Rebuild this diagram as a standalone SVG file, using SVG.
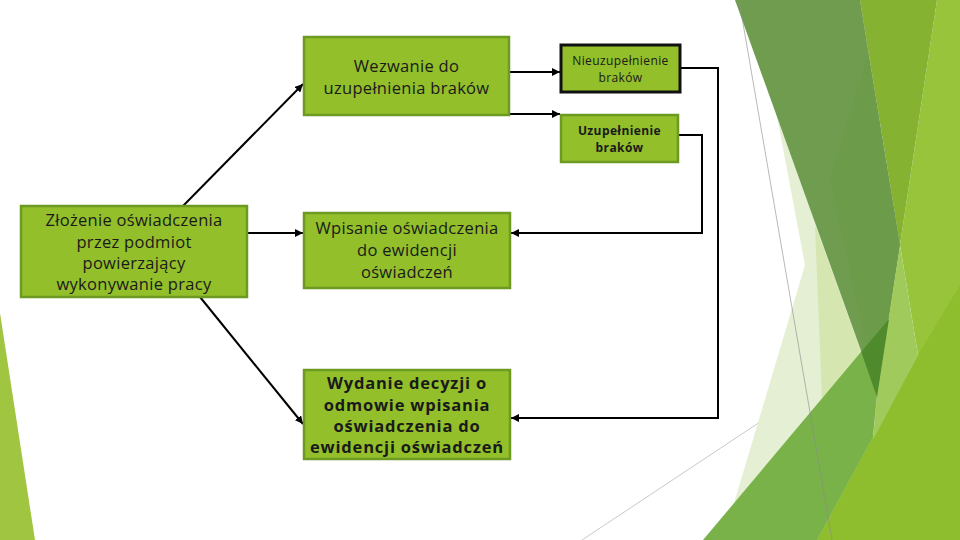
<svg xmlns="http://www.w3.org/2000/svg" width="960" height="540" viewBox="0 0 960 540">
<defs>
<style>
.box{fill:#92bf2a;stroke:#6d9a22;stroke-width:2.5}
.boxk{fill:#92bf2a;stroke:#111;stroke-width:3}
.t{font-family:"Open Sans","Liberation Sans",sans-serif;font-size:16.5px;letter-spacing:0.3px;fill:#1a1a1a;text-anchor:middle}
.tb{font-family:"Open Sans","Liberation Sans",sans-serif;font-size:16.5px;letter-spacing:0.8px;font-weight:bold;fill:#1a1a1a;text-anchor:middle}
.ts{font-family:"Open Sans","Liberation Sans",sans-serif;font-size:12px;letter-spacing:0.4px;fill:#1a1a1a;text-anchor:middle}
.tsb{font-family:"Open Sans","Liberation Sans",sans-serif;font-size:12px;letter-spacing:0.4px;font-weight:bold;fill:#1a1a1a;text-anchor:middle}
.c{fill:none;stroke:#000;stroke-width:2}
</style>
<marker id="ah" markerUnits="userSpaceOnUse" markerWidth="9" markerHeight="8" refX="8" refY="4" orient="auto">
<path d="M0,0 L8,4 L0,8 z" fill="#000"/>
</marker>
</defs>
<rect width="960" height="540" fill="#ffffff"/>
<g id="background">
<polygon points="0,313 35,540 0,540" fill="#9fc541"/>
<line x1="582" y1="540" x2="858" y2="357" stroke="#c9c9c9" stroke-width="1"/>
<polygon points="755,0 805,265 723,540 880,540 880,0" fill="#e5efd4"/>
<polygon points="815,225 862,354 822,398 818,300" fill="#d5e6b0"/>
<polygon points="937,0 960,0 960,540 817,540 873,437 918,355 900,245" fill="#97c43b"/>
<polygon points="817,540 873,437 918,355 960,285 960,540" fill="#8ebe2d"/>
<polygon points="860,0 937,0 900,245" fill="#86b232"/>
<polygon points="735,0 860,0 900,245 877,395" fill="#709c4f"/>
<polygon points="868,55 900,245 877,395 830,180" fill="#6c9b49"/>
<polygon points="900,245 918,355 873,440 877,395" fill="#a1ca5d"/>
<polygon points="703,540 861,352 877,395 873,437 817,540" fill="#79b249"/>
<polygon points="861,352 889,319 877,397" fill="#4f8b2c"/>
<line x1="739" y1="0" x2="832" y2="540" stroke="#8a8a8a" stroke-width="1" stroke-opacity="0.6"/>
</g>
<g id="connectors">
<line class="c" x1="183" y1="206" x2="303" y2="84" marker-end="url(#ah)"/>
<line class="c" x1="247" y1="233" x2="303" y2="233" marker-end="url(#ah)"/>
<line class="c" x1="200" y1="297" x2="303" y2="424" marker-end="url(#ah)"/>
<line class="c" x1="509" y1="72" x2="560" y2="72" marker-end="url(#ah)"/>
<line class="c" x1="509" y1="114" x2="560" y2="114" marker-end="url(#ah)"/>
<polyline class="c" points="680,68 718,68 718,418 511,418" marker-end="url(#ah)"/>
<polyline class="c" points="678,135 702,135 702,233 511,233" marker-end="url(#ah)"/>
</g>
<g id="n1">
<rect class="box" x="304" y="37" width="205" height="78"/>
<text class="t" x="406.5" y="72">Wezwanie do</text>
<text class="t" x="406.5" y="94">uzupełnienia braków</text>
</g>
<g id="n2">
<rect class="boxk" x="561" y="45" width="119" height="47"/>
<text class="ts" x="620.5" y="64.5">Nieuzupełnienie</text>
<text class="ts" x="620.5" y="81.5">braków</text>
</g>
<g id="n3">
<rect class="box" x="561" y="115" width="117" height="47"/>
<text class="tsb" x="619.5" y="135">Uzupełnienie</text>
<text class="tsb" x="619.5" y="152">braków</text>
</g>
<g id="n4">
<rect class="box" x="21" y="206" width="226" height="91"/>
<text class="t" x="134" y="226">Złożenie oświadczenia</text>
<text class="t" x="134" y="247.5">przez podmiot</text>
<text class="t" x="134" y="269">powierzający</text>
<text class="t" x="134" y="290">wykonywanie pracy</text>
</g>
<g id="n5">
<rect class="box" x="304" y="213" width="206" height="75"/>
<text class="t" x="407" y="234">Wpisanie oświadczenia</text>
<text class="t" x="407" y="256">do ewidencji</text>
<text class="t" x="407" y="278">oświadczeń</text>
</g>
<g id="n6">
<rect class="box" x="304" y="370" width="206" height="89"/>
<text class="tb" x="407" y="389">Wydanie decyzji o</text>
<text class="tb" x="407" y="411">odmowie wpisania</text>
<text class="tb" x="407" y="432">oświadczenia do</text>
<text class="tb" x="407" y="453">ewidencji oświadczeń</text>
</g>
</svg>
